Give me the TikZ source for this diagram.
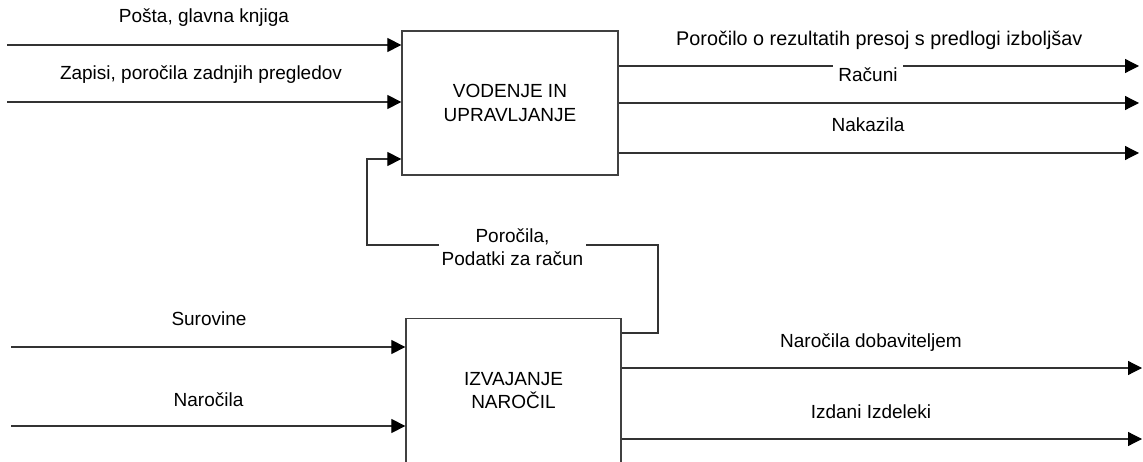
\documentclass[tikz,border=0pt]{standalone}
\usepackage{fontspec}
\setmainfont{Liberation Sans}
\usetikzlibrary{arrows.meta}
\begin{document}
\begin{tikzpicture}[x=1pt,y=-1pt,
  every node/.style={font=\fontsize{19}{23.5}\selectfont},
  activity/.style={draw=black!75, line width=1.3pt, minimum width=216pt,
    minimum height=144pt, align=center, inner sep=0pt},
  flow/.style={draw=black!80, line width=1.2pt,
    -{Triangle[length=14pt,width=14pt,fill=black,color=black]}},
  lbl/.style={anchor=base, inner sep=0pt},
  cut/.style={fill=white, inner xsep=5pt, inner ysep=3pt, align=center}]
\useasboundingbox (0,0) rectangle (1143,462);
\clip (0,0) rectangle (1143,462);

% activities
\node[activity] (vod) at (510,103) {VODENJE IN\\UPRAVLJANJE};
\node[activity, minimum width=215pt] (izv) at (513.5,390.5) {IZVAJANJE\\NAROČIL};

% inputs of the management activity
\coordinate (in1) at (7,45);
\coordinate (in2) at (7,102);
\draw[flow] (in1) -- (in1 -| vod.west);
\draw[flow] (in2) -- (in2 -| vod.west);
\node[lbl] (tin1) at (204,23) {Pošta, glavna knjiga};
\node[lbl] (tin2) at (201,80) {Zapisi, poročila zadnjih pregledov};

% outputs of the management activity
\coordinate (out1) at (1139,66);
\coordinate (out2) at (1139,103);
\coordinate (out3) at (1139,153);
\draw[flow] (vod.east |- out1) -- (out1);
\draw[flow] (vod.east |- out2) -- (out2);
\draw[flow] (vod.east |- out3) -- (out3);
\node[lbl, anchor=base west, font=\fontsize{19.8}{23.5}\selectfont] (tout1) at (676,46) {Poročilo o rezultatih presoj s predlogi izboljšav};
\node[cut, anchor=base, inner ysep=4pt] (tout2) at (868,82) {Računi};
\node[lbl] (tout3) at (868,132) {Nakazila};

% feedback from the order activity to the management activity
\coordinate (fb0) at (izv.east |- 0,333);
\coordinate (fb1) at (658,333);
\coordinate (fb2) at (658,245);
\coordinate (fb3) at (367,245);
\coordinate (fb4) at (367,159);
\draw[flow] (fb0) -- (fb1) -- (fb2) -- (fb3) -- (fb4) -- (fb4 -| vod.west);
\node[cut, inner xsep=3pt] (tfb) at (512.5,247) {Poročila,\\Podatki za račun};

% inputs of the order activity
\coordinate (in3) at (11,347);
\coordinate (in4) at (11,426);
\draw[flow] (in3) -- (in3 -| izv.west);
\draw[flow] (in4) -- (in4 -| izv.west);
\node[lbl] (tin3) at (209,326) {Surovine};
\node[lbl] (tin4) at (208.5,406) {Naročila};

% outputs of the order activity
\coordinate (out4) at (1142,368);
\coordinate (out5) at (1142,439);
\draw[flow] (izv.east |- out4) -- (out4);
\draw[flow] (izv.east |- out5) -- (out5);
\node[lbl] (tout4) at (871,347) {Naročila dobaviteljem};
\node[lbl] (tout5) at (871,418) {Izdani Izdeleki};
\end{tikzpicture}
\end{document}
